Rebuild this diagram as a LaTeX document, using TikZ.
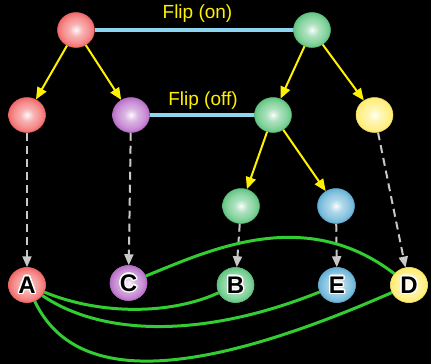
\documentclass[tikz,border=0pt]{standalone}
\usepackage{fontspec}
\setmainfont{Liberation Sans}
\usetikzlibrary{arrows.meta,shapes.geometric}
\definecolor{cRed}{HTML}{F26A6A}
\definecolor{cPurple}{HTML}{B970C9}
\definecolor{cGreen}{HTML}{62C682}
\definecolor{cYellow}{HTML}{FFEC6E}
\definecolor{cBlue}{HTML}{66B2D6}
\definecolor{cCyan}{HTML}{8ED6F0}
\definecolor{cLink}{HTML}{33CC33}
\definecolor{cGray}{HTML}{C8C8C8}
\colorlet{ballcolor}{red}
\pgfdeclareradialshading[ballcolor]{myball}{\pgfpoint{0bp}{0bp}}{%
  color(0bp)=(white); color(2bp)=(ballcolor!15!white);
  color(9bp)=(ballcolor!52!white); color(18bp)=(ballcolor!75!white);
  color(25bp)=(ballcolor); color(50bp)=(ballcolor)}
\tikzset{
  ball/.style={ellipse, minimum width=37pt, minimum height=35pt, inner sep=0pt,
    draw=#1!92!black, line width=0.5pt,
    /utils/exec={\colorlet{ballcolor}{#1}}, shading=myball},
  flipline/.style={cCyan, line width=4pt},
  fliplabel/.style={text=yellow, font=\fontsize{19}{22}\selectfont, inner sep=0pt},
  childarrow/.style={yellow, line width=2pt, -{Triangle[length=12pt,width=10pt]}},
  maparrow/.style={cGray, line width=2pt, dash pattern=on 8pt off 5pt, -{Triangle[length=11pt,width=9pt]}},
  link/.style={cLink, line width=3pt},
  lettxt/.style={font=\fontsize{24}{26}\bfseries\selectfont, inner sep=0pt}
}
\newcommand\letterat[2]{%
  \foreach \ang in {0,22.5,...,337.5}
    \node[lettxt, text=white] at ([shift={(\ang:1.3pt)}]#1.center) {#2};
  \node[lettxt, text=black] at (#1.center) {#2};
}
\begin{document}
\begin{tikzpicture}[x=1pt, y=-1pt]
\fill[black] (0,0) rectangle (431,364);
\useasboundingbox (0,0) rectangle (431,364);

% nodes
\node[ball=cRed]    (t1) at (76,30) {};
\node[ball=cGreen]  (t2) at (312,30) {};
\node[ball=cRed]    (m1) at (27,115) {};
\node[ball=cPurple] (m2) at (131,115) {};
\node[ball=cGreen]  (m3) at (273,115) {};
\node[ball=cYellow] (m4) at (374.5,115) {};
\node[ball=cGreen]  (b1) at (241,206) {};
\node[ball=cBlue]   (b2) at (336,206) {};
\node[ball=cRed]    (A) at (27,285) {};
\node[ball=cPurple] (C) at (128.5,283) {};
\node[ball=cGreen]  (B) at (235.5,285) {};
\node[ball=cBlue]   (E) at (337,285) {};
\node[ball=cYellow] (D) at (409,285) {};

% flip links
\draw[flipline] (t1) -- (t2);
\draw[flipline] (m2) -- (m3);
\node[fliplabel] (lon)  at (197.5,14) {Flip (on)};
\node[fliplabel] (loff) at (203,101) {Flip (off)};

% child arrows
\draw[childarrow] (t1) -- (m1);
\draw[childarrow] (t1) -- (m2);
\draw[childarrow] (t2) -- (m3);
\draw[childarrow] (t2) -- (m4);
\draw[childarrow] (m3) -- (b1);
\draw[childarrow] (m3) -- (b2);

% mapping arrows
\draw[maparrow] (m1) -- (A);
\draw[maparrow] (m2) -- (C);
\draw[maparrow] (b1) -- (B);
\draw[maparrow] (b2) -- (E);
\draw[maparrow] (m4) -- (D);

% green links
\draw[link] (C) .. controls (210,250) and (305,205) .. (D);
\draw[link] (A) .. controls (100,315) and (170,315) .. (B);
\draw[link] (A) .. controls (100,335) and (200,340) .. (E);
\draw[link] (A) .. controls (70,375) and (170,390) .. (D);

% redraw bottom balls on top of link ends
\node[ball=cRed]    (A2) at (A) {};
\node[ball=cPurple] (C2) at (C) {};
\node[ball=cGreen]  (B2) at (B) {};
\node[ball=cBlue]   (E2) at (E) {};
\node[ball=cYellow] (D2) at (D) {};

% letters
\letterat{A}{A}
\letterat{C}{C}
\letterat{B}{B}
\letterat{E}{E}
\letterat{D}{D}
\end{tikzpicture}
\end{document}
